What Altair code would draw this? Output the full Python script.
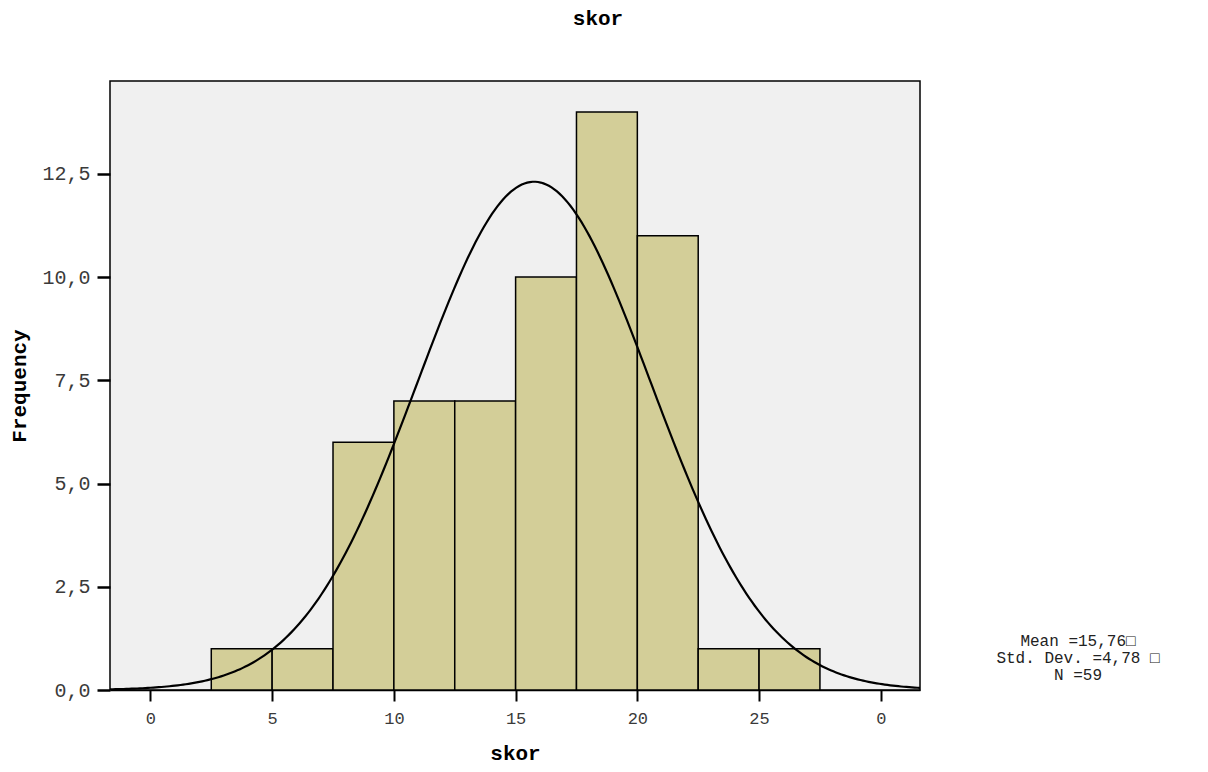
import altair as alt
import numpy as np
import pandas as pd

# Histogram of skor: bins of width 2.5
bin_start = [2.5, 5.0, 7.5, 10.0, 12.5, 15.0, 17.5, 20.0, 22.5, 25.0]
bin_end = [5.0, 7.5, 10.0, 12.5, 15.0, 17.5, 20.0, 22.5, 25.0, 27.5]
counts = [1, 1, 6, 7, 7, 10, 14, 11, 1, 1]

# Summary statistics shown in the corner
mean_val = 15.76
sd_val = 4.78
n_val = 59
bin_width = 2.5

x_domain = [-1.66, 31.61]
y_domain = [0, 14.75]

bars = pd.DataFrame({"start": bin_start, "end": bin_end, "count": counts})

# Fitted normal curve scaled to the histogram (N * bin width * density)
xs = np.linspace(x_domain[0], x_domain[1], 300)
ys = n_val * bin_width / (sd_val * np.sqrt(2 * np.pi)) * np.exp(-0.5 * ((xs - mean_val) / sd_val) ** 2)
curve = pd.DataFrame({"x": xs, "y": ys})

MONO = "Courier New, Liberation Mono, monospace"


def comma(v):
    return f"{v:.2f}".replace(".", ",")


x_scale = alt.Scale(domain=x_domain, nice=False, zero=False)
y_scale = alt.Scale(domain=y_domain, nice=False)

hist = alt.Chart(bars).mark_rect(
    fill="#D3CE98", stroke="black", strokeWidth=1.5
).encode(
    x=alt.X(
        "start:Q",
        scale=x_scale,
        title="skor",
        axis=alt.Axis(
            values=[0, 5, 10, 15, 20, 25, 30],
            labelExpr="datum.value == 30 ? '0' : datum.label",
            grid=False,
            domainColor="black",
            domainWidth=1.5,
            tickColor="black",
            tickWidth=2,
            tickSize=11,
            labelFont=MONO,
            labelFontSize=17,
            labelColor="#3a3a3a",
            labelPadding=9,
            titleFont=MONO,
            titleFontSize=21,
            titleFontWeight="bold",
            titleColor="black",
            titlePadding=16,
        ),
    ),
    x2="end:Q",
    y=alt.Y(
        "count:Q",
        scale=y_scale,
        title="Frequency",
        axis=alt.Axis(
            values=[0, 2.5, 5, 7.5, 10, 12.5],
            format=".1f",
            labelExpr="replace(datum.label, '.', ',')",
            grid=False,
            domain=False,
            tickColor="black",
            tickWidth=2.5,
            tickSize=13,
            labelFont=MONO,
            labelFontSize=20,
            labelColor="#3a3a3a",
            labelPadding=7,
            titleFont=MONO,
            titleFontSize=21,
            titleFontWeight="bold",
            titleColor="black",
            titlePadding=12,
        ),
    ),
    y2=alt.datum(0),
)

line = alt.Chart(curve).mark_line(color="black", strokeWidth=2.2, clip=True).encode(
    x=alt.X("x:Q", scale=x_scale),
    y=alt.Y("y:Q", scale=y_scale),
)

stats_lines = [
    f"Mean ={comma(mean_val)}\u25a1",
    f"Std. Dev. ={comma(sd_val)} \u25a1",
    f"N ={n_val}",
]
stats = alt.Chart(pd.DataFrame({"k": [0]})).mark_text(
    font=MONO, fontSize=16, color="#222222", align="center", baseline="middle",
    lineHeight=17, clip=False,
).encode(
    x=alt.value(968),
    y=alt.value(560),
    text=alt.value(stats_lines),
)

chart = alt.layer(hist, line, stats).properties(
    width=810,
    height=609,
    title=alt.TitleParams(
        "skor", font=MONO, fontSize=21, fontWeight="bold", color="black",
        anchor="middle", dx=83, offset=52,
    ),
    autosize=alt.AutoSizeParams(type="none"),
    padding={"left": 110, "top": 81, "right": 288, "bottom": 82},
    background="white",
).configure_view(
    fill="#F0F0F0", stroke="black", strokeWidth=1.5
)

chart.save("out.html", embed_options={"renderer": "svg", "actions": False})
